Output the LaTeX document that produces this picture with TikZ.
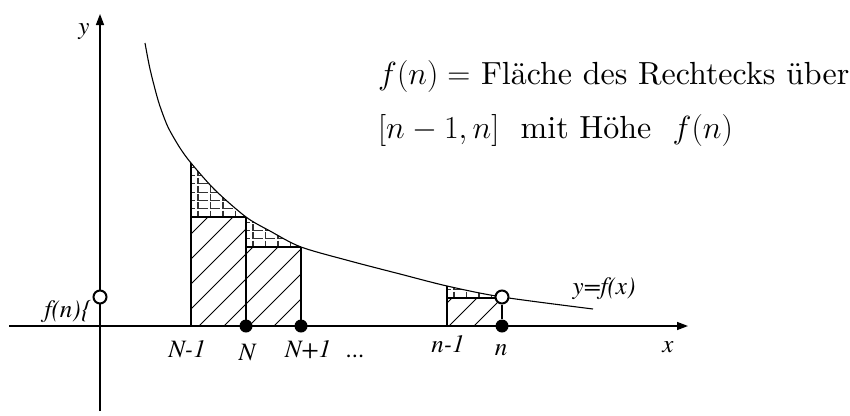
\RequirePackage{fix-cm}
\documentclass[tikz,border=0pt]{standalone}
\usepackage{fontspec}
\IfFontExistsTF{texgyretermes-italic.otf}
  {\newfontfamily\labfont{texgyretermes-italic.otf}}
  {\newfontfamily\labfont{Liberation Serif Italic}}
\newfontfamily\txtfont{lmroman10-regular.otf}
\usetikzlibrary{arrows.meta}
\newcommand\gridfill[3]{%
  \begin{scope}
    \clip (#1,#3) rectangle (#2,100);
    \foreach \i in {-1,...,5}{\foreach \j in {0,...,8}{
      \draw[gridl] ({#1+7+12.5*\i},{#3-8.3*\j-6.3}) -- ({#1+7+12.5*\i},{#3-8.3*\j}) -- ({#1+7+12.5*\i+9.5},{#3-8.3*\j});
    }}
  \end{scope}}
\newcommand\curvepts{(145,43) (150,69) (158,100) (165,120) (170,131) (180,148) (191,163) (215,190) (246,217) (270,231) (301,247) (350,261) (400,274) (447,286) (502,297) (593,309)}
\begin{document}
\begin{tikzpicture}[x=1pt,y=-1pt,
  lab/.style={font=\labfont\fontsize{25}{30}\selectfont, inner sep=0pt, anchor=base},
  dotn/.style={circle, fill=black, minimum size=13pt, inner sep=0pt},
  ocirc/.style={circle, draw=black, line width=2pt, fill=white, minimum size=13pt, inner sep=0pt},
  axis/.style={line width=1.4pt, -{Triangle[length=11pt,width=8pt]}},
  curvel/.style={line width=1.1pt},
  edgel/.style={line width=1.1pt},
  hatchl/.style={line width=0.8pt},
  gridl/.style={line width=1.1pt, black!80},
  txt/.style={font=\txtfont\fontsize{32}{38}\selectfont, inner sep=0pt, anchor=base west}
]
\useasboundingbox (0,0) rectangle (850,415);

% hatching of the rectangles
\begin{scope}
  \clip (191,217) rectangle (246,326) (246,247) rectangle (301,326) (447,298) rectangle (502,326);
  \foreach \k in {-5,...,14}{
    \draw[hatchl] ({199+25*\k},326) -- ({199+25*\k+200},126);
  }
\end{scope}

% grid between curve and rectangle tops
\begin{scope}
  \clip plot[smooth] coordinates {\curvepts} -- (593,326) -- (145,326) -- cycle;
  \gridfill{191}{246}{217}
  \gridfill{246}{301}{247}
  \gridfill{447}{502}{298}
  \draw[edgel] (191,326) -- (191,140);
  \draw[edgel] (447,326) -- (447,270);
\end{scope}

% rectangle outlines
\draw[edgel] (191,217) -- (246,217);
\draw[edgel] (246,326) -- (246,217);
\draw[edgel] (246,247) -- (301,247);
\draw[edgel] (301,326) -- (301,247);
\draw[edgel] (447,298) -- (502,298);

% curve
\draw[curvel] plot[smooth] coordinates {\curvepts};

% axes
\coordinate (xs) at (9,326);
\coordinate (xe) at (688,326);
\coordinate (ys) at (100,411);
\coordinate (ye) at (100,14);
\draw[axis] (xs) -- (xe);
\draw[axis] (ys) -- (ye);

% points
\node[dotn] (dN) at (246,326) {};
\node[dotn] (dN1) at (301,326) {};
\node[dotn] (dn) at (502,326) {};
\node[ocirc] (cn) at (502,297) {};
\node[ocirc] (cy) at (100,297) {};
\draw[edgel] (cn) -- (dn);

% labels
\node[lab] (ly) at (84,34) {y};
\node[lab, anchor=base east] (lfn) at (91,317) {f(n)\{};
\node[lab] (lNm) at (187,357) {N-1};
\node[lab] (lN) at (247,360) {N};
\node[lab] (lNp) at (308,357) {N+1};
\node[lab] (ldots) at (356,357) {...};
\node[lab] (lnm) at (448,352) {n-1};
\node[lab] (ln) at (501,355) {n};
\node[lab] (lx) at (668,352) {x};
\node[lab] (lyf) at (604,294) {y=f(x)};

\node[txt] (t1) at (378,84) {$f(n)=$ Fläche des Rechtecks über};
\node[txt] (t2) at (378,138) {$[n-1,n]$\ \ mit Höhe\ \ $f(n)$};
\end{tikzpicture}
\end{document}
